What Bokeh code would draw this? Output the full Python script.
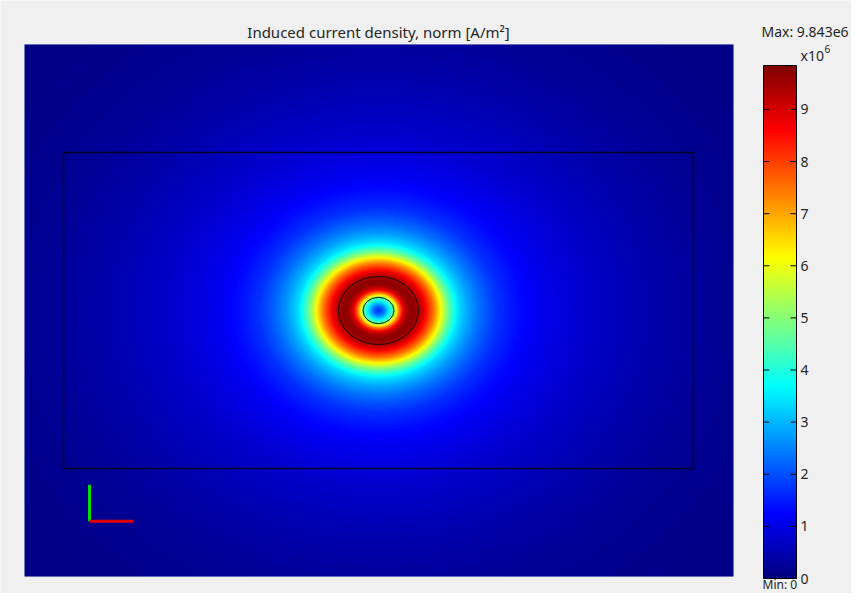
import numpy as np
from bokeh.plotting import figure
from bokeh.models import LinearColorMapper, Range1d
from bokeh.core.properties import value
from bokeh.embed import file_html
from bokeh.resources import INLINE

TITLE = "Induced current density, norm [A/m²]"
UNIT_LABEL = "x10"
UNIT_EXP = "6"
MAX_TEXT = "Max: 9.843e6"
MIN_TEXT = "Min: 0"

# radial profile of |J| through the coil centre (r in drawing units, J in 1e6 A/m^2)
PROFILE_R = [0, 5, 10, 15, 20, 25, 30, 35, 40, 45, 50, 55, 60, 65, 70, 75, 80, 90,
             100, 110, 120, 140, 160, 200, 250, 300, 350, 450]
PROFILE_J = [1.6, 2.3, 3.4, 4.7, 7.2, 8.9, 9.6, 9.7, 9.4, 8.9, 8.2, 7.5, 6.6, 5.6,
             4.7, 4.0, 3.4, 2.8, 2.35, 2.0, 1.7, 1.35, 1.1, 0.8, 0.55, 0.35, 0.2, 0.08]
J_MIN = 0.0
J_MAX = 9.843
CB_TICKS = [0, 1, 2, 3, 4, 5, 6, 7, 8, 9]

# geometry (drawing units)
FIELD_X = (-354, 355)
FIELD_Y = (-313, 313)
BOX_HALF_W = 315
BOX_HALF_H = 186
COIL_RADII = [15.5, 40]
TRIAD_ORIGIN = (-289, -248)
TRIAD_LEN_X = 44
TRIAD_LEN_Y = 43

# page layout (pixels)
W, H = 851, 593
CENTER_PX = (378, 310)      # where drawing origin sits on the page
Y_PX_PER_UNIT = 0.85        # vertical drawing scale (horizontal is 1 px/unit)
CB_BOX_PX = (763, 796, 65, 578)   # left, right, top(J_MAX), bottom(J_MIN)

BG = "#f0f0f0"
TXT = "#262626"
FONT = value("Noto Sans")


def jet(n=256):
    t = np.linspace(0, 1, n)
    r = np.clip(1.5 - np.abs(4 * t - 3), 0, 1)
    g = np.clip(1.5 - np.abs(4 * t - 2), 0, 1)
    b = np.clip(1.5 - np.abs(4 * t - 1), 0, 1)
    return ["#%02x%02x%02x" % (int(a * 255), int(c * 255), int(d * 255)) for a, c, d in zip(r, g, b)]


mapper = LinearColorMapper(palette=jet(), low=J_MIN, high=J_MAX)

cx, cy = CENTER_PX
x_range = Range1d(-cx, W - cx)
y_range = Range1d((cy - H) / Y_PX_PER_UNIT, cy / Y_PX_PER_UNIT)

cl, cr, ct, cbm = CB_BOX_PX
cb_w = cr - cl
j_per_px = (J_MAX - J_MIN) / (cbm - ct)
cb_x = Range1d(-cl / cb_w, (W - cl) / cb_w)
cb_y = Range1d(J_MIN - (H - cbm) * j_per_px, J_MIN + cbm * j_per_px)

p = figure(width=W, height=H, x_range=x_range, y_range=y_range, title=None,
           output_backend="svg", toolbar_location=None,
           min_border_left=0, min_border_right=0, min_border_top=0, min_border_bottom=0,
           border_fill_color=BG, background_fill_color=BG, outline_line_color=None)
p.axis.visible = False
p.grid.visible = False
p.extra_x_ranges = {"cb": cb_x, "px": Range1d(0, W)}
p.extra_y_ranges = {"cb": cb_y, "px": Range1d(H, 0)}

# ---------- field ----------
nx, ny = FIELD_X[1] - FIELD_X[0], int(round((FIELD_Y[1] - FIELD_Y[0]) * Y_PX_PER_UNIT))
xs = np.linspace(FIELD_X[0], FIELD_X[1], nx)
ys = np.linspace(FIELD_Y[0], FIELD_Y[1], ny)
XX, YY = np.meshgrid(xs, ys)
field = np.interp(np.hypot(XX, YY), PROFILE_R, PROFILE_J).astype(np.float32)
p.image(image=[field], x=FIELD_X[0], y=FIELD_Y[0], dw=FIELD_X[1] - FIELD_X[0],
        dh=FIELD_Y[1] - FIELD_Y[0], color_mapper=mapper)

p.quad(left=-BOX_HALF_W, right=BOX_HALF_W, bottom=-BOX_HALF_H, top=BOX_HALF_H,
       fill_color=None, line_color="#000028", line_width=1.5)
p.ellipse(x=[0, 0], y=[0, 0], width=[2 * r for r in COIL_RADII],
          height=[2 * r for r in COIL_RADII], fill_color=None, line_color="#111111", line_width=1)

ox, oy = TRIAD_ORIGIN
p.segment(x0=[ox], y0=[oy], x1=[ox], y1=[oy + TRIAD_LEN_Y], line_color="#00e000", line_width=3)
p.segment(x0=[ox], y0=[oy], x1=[ox + TRIAD_LEN_X], y1=[oy], line_color="#e00000", line_width=3)

# ---------- colour bar ----------
grad = np.linspace(J_MIN, J_MAX, 512).reshape(512, 1)
p.image(image=[grad], x=0, y=J_MIN, dw=1, dh=J_MAX - J_MIN, color_mapper=mapper,
        x_range_name="cb", y_range_name="cb")
tick_len = 6 / cb_w
n = len(CB_TICKS)
p.segment(x0=[0] * n, y0=CB_TICKS, x1=[tick_len] * n, y1=CB_TICKS,
          line_color="#000000", line_width=1, x_range_name="cb", y_range_name="cb")
p.segment(x0=[1 - tick_len] * n, y0=CB_TICKS, x1=[1] * n, y1=CB_TICKS,
          line_color="#000000", line_width=1, x_range_name="cb", y_range_name="cb")
p.quad(left=0, right=1, bottom=J_MIN, top=J_MAX, fill_color=None, line_color="#000000",
       line_width=1, x_range_name="cb", y_range_name="cb")
p.text(x=[1] * n, y=CB_TICKS, text=[str(t) for t in CB_TICKS], x_offset=4,
       text_baseline="middle", text_align="left", text_font=FONT, text_font_size="14px",
       text_color=TXT, x_range_name="cb", y_range_name="cb")

# ---------- texts ----------
BASE_SHIFT = -6   # compensate where the renderer puts the alphabetic baseline


def ptext(x, y, s, size, align="left"):
    p.text(x=[x], y=[y + BASE_SHIFT], text=[s], text_font=FONT, text_font_size=size,
           text_color=TXT, text_align=align, text_baseline="alphabetic",
           x_range_name="px", y_range_name="px")


ptext(378, 37, TITLE, "15px", "center")
ptext(761, 37, MAX_TEXT, "14px")
ptext(800, 61, UNIT_LABEL, "14px")
ptext(824, 54, UNIT_EXP, "10px")
ptext(762, 590, MIN_TEXT, "12px")

open("out.html", "w").write(file_html(p, INLINE))
